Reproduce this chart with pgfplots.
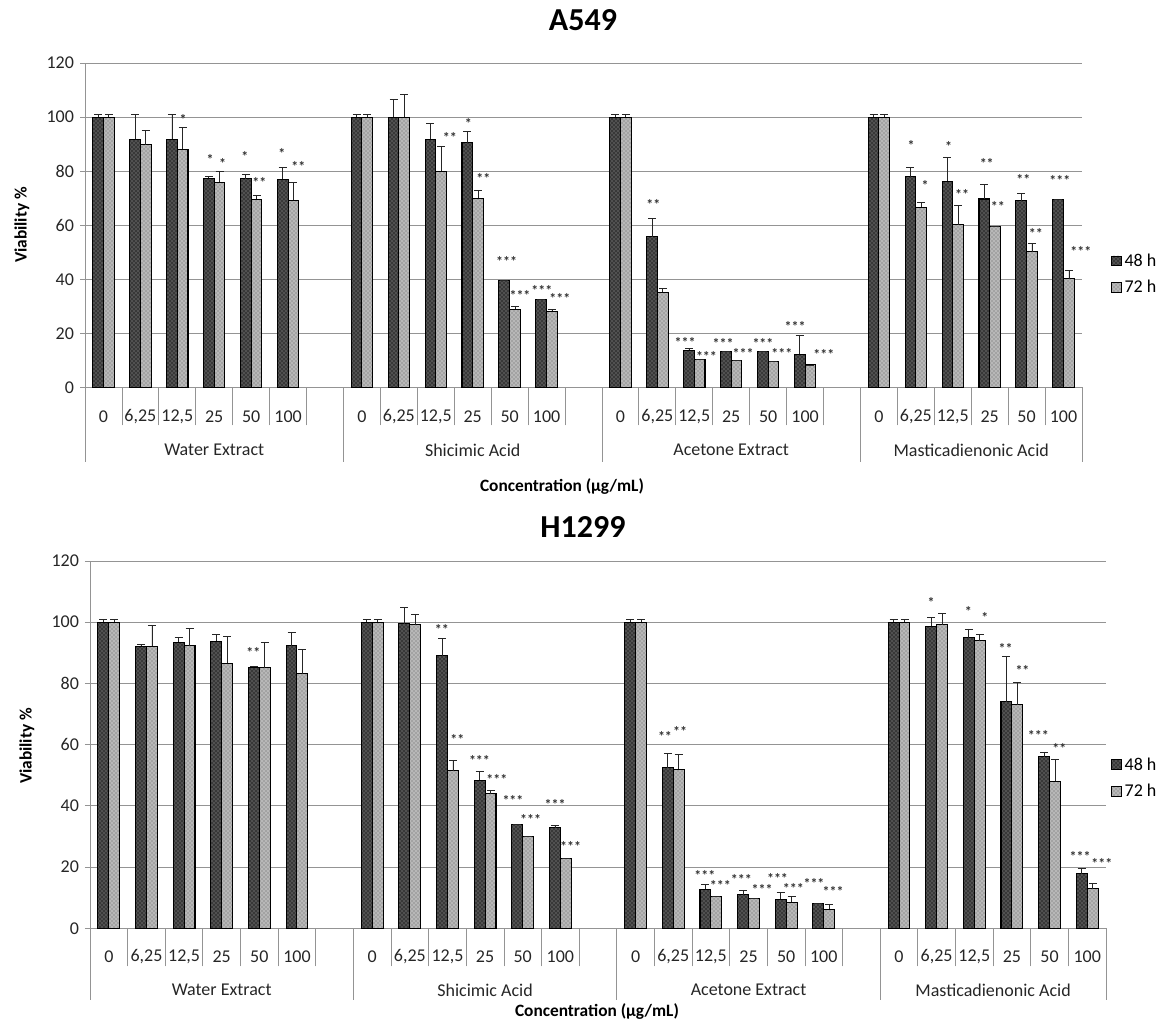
\documentclass[border=0pt]{standalone}
\usepackage{fontspec}
\setmainfont{Carlito}
\usepackage{pgfplots}
\pgfplotsset{compat=1.18}
\usepackage{pgfplotstable}
\usetikzlibrary{patterns}

\definecolor{gridgray}{gray}{0.58}

\pgfplotstableread{
x h48 e48 h72 e72
0 100 1 100 1
1 91.8 9.1 89.7 5.3
2 91.8 9.1 88.1 8.1
3 77.4 0.6 75.9 4.1
4 77.2 1.5 69.6 1.5
5 77.0 4.5 69.3 6.6
7 100 1 100 1
8 100 6.7 100 8.5
9 91.8 6.0 79.9 9.2
10 90.6 4.2 70.0 2.8
11 39.7 0 28.9 1.0
12 32.6 0 28.1 0.8
14 100 1 100 1
15 55.8 6.8 35.2 1.3
16 13.8 0.6 10.4 0
17 13.4 0 9.9 0
18 13.4 0 9.6 0
19 12.3 7.1 8.3 0
21 100 1 100 1
22 77.9 3.6 66.7 1.8
23 76.2 9.0 60.2 7.2
24 69.7 5.5 59.5 0
25 69.1 2.7 50.2 2.9
26 69.4 0 40.2 3.2
}\topdata

\pgfplotstableread{
x y lab
2.16 99.0 *
2.885 84.2 *
3.23 82.7 *
3.83 85.4 *
4.22 75.7 **
4.83 86.6 *
5.28 81.8 **
9.38 92.6 **
9.88 97.5 *
10.29 77.4 **
10.92 46.5 ***
11.28 33.9 ***
11.87 35.8 ***
12.36 33.0 ***
14.89 67.5 **
15.75 16.5 ***
16.33 11.6 ***
16.78 16.3 ***
17.32 12.7 ***
17.86 16.3 ***
18.37 12.7 ***
18.73 22.7 ***
19.51 12.1 ***
21.87 89.4 *
22.25 74.6 *
22.89 89.0 *
23.25 71.2 **
23.92 82.8 **
24.22 67.1 **
24.91 76.8 **
25.25 57.0 **
25.90 76.4 ***
26.47 50.2 ***
}\topstars

\pgfplotstableread{
x h48 e48 h72 e72
0 100 1 100 1
1 92.1 0.6 92.1 7.0
2 93.5 1.4 92.3 5.7
3 93.8 2.1 86.5 8.7
4 85.2 0.5 85.1 8.2
5 92.3 4.4 83.2 8.0
7 100 1 100 1
8 99.5 5.2 99.1 3.6
9 89.1 5.6 51.4 3.3
10 48.3 3.0 44.0 1.1
11 34.0 0 30.1 0
12 32.9 0.6 22.8 0
14 100 1 100 1
15 52.4 4.7 52.0 4.7
16 12.7 1.7 10.5 0
17 11.0 1.5 9.8 0
18 9.5 2.2 8.5 1.9
19 8.2 0 6.2 1.7
21 100 1 100 1
22 98.6 2.8 99.1 3.8
23 94.9 2.9 94.0 1.9
24 74.0 14.7 73.1 7.3
25 56.0 1.3 48.1 7.2
26 17.8 1.7 12.9 1.6
}\botdata

\pgfplotstableread{
x y lab
3.84 90.2 **
8.85 97.6 **
9.26 61.6 **
9.85 54.9 ***
10.31 48.7 ***
10.74 41.8 ***
11.21 35.6 ***
11.86 40.5 ***
12.27 26.8 ***
14.78 62.5 **
15.18 64.4 **
15.84 17.4 ***
16.25 14.0 ***
16.81 16.1 ***
17.36 12.7 ***
17.77 16.3 ***
18.19 13.0 ***
18.74 14.7 ***
19.25 12.0 ***
21.85 106.5 *
22.84 103.5 *
23.28 101.6 *
23.83 91.3 **
24.28 84.2 **
24.70 63.0 ***
25.26 58.7 **
25.81 23.6 ***
26.39 21.2 ***
}\botstars

\newcommand{\tickfont}{\fontsize{13.5}{16}\selectfont}

\pgfplotsset{
  mylegend/.style={legend image code/.code={\draw[##1,line width=0.6pt] (0pt,-3.7pt) rectangle (7.4pt,3.7pt);}},
  bar48/.style={fill=black!78, postaction={pattern=crosshatch dots, pattern color=white!65!black}},
  bar72/.style={fill=black!28, postaction={pattern=crosshatch dots, pattern color=black!62}},
  errs/.style={error bars/.cd, y dir=plus, y explicit,
     error bar style={black!85, line width=0.6pt},
     error mark options={black!85, rotate=90, mark size=3pt, line width=0.6pt}},
  stars/.style={draw=none, mark=none, forget plot, nodes near coords,
     point meta=explicit symbolic, nodes near coords align={center},
     every node near coord/.append style={font=\fontsize{10.5}{10.5}\bfseries\selectfont, inner sep=0pt, anchor=center, text=black!80}},
  panel/.style={
    scale only axis, anchor=south west,
    xmin=-0.5, xmax=26.5, ymin=0, ymax=120,
    ytick={0,20,...,120},
    ymajorgrids, grid style={gridgray, line width=0.6pt},
    axis lines*=left,
    axis line style={gridgray, line width=0.6pt},
    xtick={0,1,2,3,4,5,7,8,9,10,11,12,14,15,16,17,18,19,21,22,23,24,25,26},
    xticklabels={0,{6,25},{12,5},25,50,100,0,{6,25},{12,5},25,50,100,0,{6,25},{12,5},25,50,100,0,{6,25},{12,5},25,50,100},
    minor xtick={-0.5,0.5,...,26.5},
    major x tick style={draw=none},
    minor x tick style={gridgray, line width=0.6pt},
    ytick style={gridgray, line width=0.6pt},
    minor tick length=28.5pt,
    major tick length=3.75pt,
    tick align=outside, tick pos=left,
    clip=false,
    tick label style={font=\tickfont, text=black!85},
    yticklabel style={xshift=-1pt},
    /pgf/number format/assume math mode=true,
    legend cell align=left,
    legend style={draw=none, fill=none, font=\tickfont, row sep=5pt, anchor=west},
  }
}

\begin{document}
\begin{tikzpicture}
\useasboundingbox (0,0) rectangle (875.25pt,-768.75pt);

% ---------- A549 ----------
\begin{axis}[panel, at={(63.75pt,-290.5pt)}, width=747.75pt, height=243.2pt,
  xticklabel style={anchor=center, yshift=-18.5pt},
  legend style={at={(rel axis cs:1.025,0.349)}}]
\addplot[ybar, bar width=0.29, bar shift=0pt, draw=black, line width=0.8pt, bar48, mylegend, errs]
  table[x expr=\thisrow{x}-0.145, y=h48, y error=e48] {\topdata};
\addplot[ybar, bar width=0.29, bar shift=0pt, draw=black, line width=0.8pt, bar72, mylegend, errs]
  table[x expr=\thisrow{x}+0.145, y=h72, y error=e72] {\topdata};
\legend{48 h, 72 h}
\addplot[stars] table[x=x, y=y, meta=lab] {\topstars};
\draw[gridgray, line width=0.6pt] (axis cs:-0.5,0) -- ++(0pt,-56pt);
\draw[gridgray, line width=0.6pt] (axis cs:6.5,0) -- ++(0pt,-56pt);
\draw[gridgray, line width=0.6pt] (axis cs:13.5,0) -- ++(0pt,-56pt);
\draw[gridgray, line width=0.6pt] (axis cs:20.5,0) -- ++(0pt,-56pt);
\draw[gridgray, line width=0.6pt] (axis cs:26.5,0) -- ++(0pt,-56pt);
\node[font=\tickfont, text=black!85, yshift=-47pt] at (axis cs:3,0) {Water Extract};
\node[font=\tickfont, text=black!85, yshift=-47pt] at (axis cs:10,0) {Shicimic Acid};
\node[font=\tickfont, text=black!85, yshift=-47pt] at (axis cs:17,0) {Acetone Extract};
\node[font=\tickfont, text=black!85, yshift=-47pt] at (axis cs:23.5,0) {Masticadienonic Acid};
\end{axis}

% ---------- H1299 ----------
\begin{axis}[panel, at={(67.5pt,-696.2pt)}, width=762pt, height=275.5pt,
  xticklabel style={anchor=center, yshift=-17.8pt},
  legend style={at={(rel axis cs:1.001,0.409)}}]
\addplot[ybar, bar width=0.29, bar shift=0pt, draw=black, line width=0.8pt, bar48, mylegend, errs]
  table[x expr=\thisrow{x}-0.145, y=h48, y error=e48] {\botdata};
\addplot[ybar, bar width=0.29, bar shift=0pt, draw=black, line width=0.8pt, bar72, mylegend, errs]
  table[x expr=\thisrow{x}+0.145, y=h72, y error=e72] {\botdata};
\legend{48 h, 72 h}
\addplot[stars] table[x=x, y=y, meta=lab] {\botstars};
\draw[gridgray, line width=0.6pt] (axis cs:-0.5,0) -- ++(0pt,-54pt);
\draw[gridgray, line width=0.6pt] (axis cs:6.5,0) -- ++(0pt,-54pt);
\draw[gridgray, line width=0.6pt] (axis cs:13.5,0) -- ++(0pt,-54pt);
\draw[gridgray, line width=0.6pt] (axis cs:20.5,0) -- ++(0pt,-54pt);
\draw[gridgray, line width=0.6pt] (axis cs:26.5,0) -- ++(0pt,-54pt);
\node[font=\tickfont, text=black!85, yshift=-46.3pt] at (axis cs:3,0) {Water Extract};
\node[font=\tickfont, text=black!85, yshift=-46.3pt] at (axis cs:10,0) {Shicimic Acid};
\node[font=\tickfont, text=black!85, yshift=-46.3pt] at (axis cs:17,0) {Acetone Extract};
\node[font=\tickfont, text=black!85, yshift=-46.3pt] at (axis cs:23.5,0) {Masticadienonic Acid};
\end{axis}

% titles and axis labels
\node[font=\fontsize{24}{28}\bfseries\selectfont] at (437.25pt,-15pt) {A549};
\node[font=\fontsize{24}{28}\bfseries\selectfont] at (437.25pt,-395.25pt) {H1299};
\node[font=\fontsize{13}{15}\bfseries\selectfont] at (421.5pt,-365.25pt) {Concentration (µg/mL)};
\node[font=\fontsize{13}{15}\bfseries\selectfont] at (447.75pt,-759pt) {Concentration (µg/mL)};
\node[font=\fontsize{13}{15}\bfseries\selectfont, rotate=90] at (16.5pt,-168.75pt) {Viability \%};
\node[font=\fontsize{13}{15}\bfseries\selectfont, rotate=90] at (20.25pt,-559.5pt) {Viability \%};
\end{tikzpicture}
\end{document}
